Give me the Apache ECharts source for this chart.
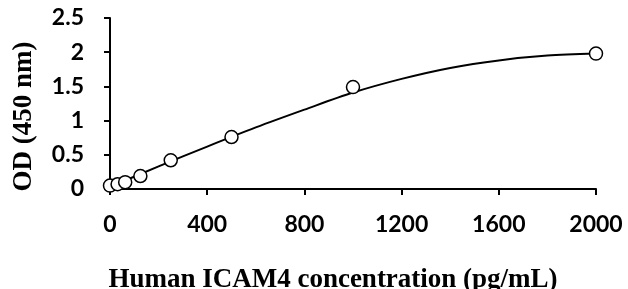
<!DOCTYPE html>
<html>
<head>
<meta charset="utf-8">
<script src="https://cdn.jsdelivr.net/npm/echarts@6/dist/echarts.min.js"></script>
<style>
  html, body { margin: 0; padding: 0; background: #fff; }
  #main { width: 628px; height: 289px; }
</style>
</head>
<body>
<div id="main"></div>
<script>
// measured standards
const concentrations = [0, 31.25, 62.5, 125, 250, 500, 1000, 2000];
const odValues = [0.05, 0.07, 0.10, 0.19, 0.42, 0.76, 1.49, 1.98];

// fitted curve
const curveX = [0, 200, 400, 600, 800, 1000, 1200, 1400, 1600, 1800, 2000];
const curveY = [0.03, 0.33, 0.62, 0.90, 1.16, 1.41, 1.61, 1.77, 1.88, 1.95, 1.98];

const xTitle = 'Human ICAM4 concentration (pg/mL)';
const yTitle = 'OD (450 nm)';

const chart = echarts.init(document.getElementById('main'));

const tickFont = { fontFamily: 'Lato', fontWeight: 'bold', fontSize: 23, color: '#000' };
const titleFont = { fontFamily: 'Liberation Serif', fontWeight: 'bold', fontSize: 27, color: '#000' };

chart.setOption({
    animation: false,
    grid: { left: 110, right: 32, top: 18, bottom: 100, outerBoundsMode: 'none', containLabel: false },
    xAxis: {
        type: 'value',
        min: 0, max: 2000, interval: 400,
        name: xTitle,
        nameLocation: 'middle',
        nameGap: 78,
        nameTextStyle: { ...titleFont, padding: [0, 40, 0, 0] },
        axisLine: { lineStyle: { color: '#000', width: 2 } },
        axisTick: { inside: false, length: 6, lineStyle: { color: '#000', width: 2 } },
        axisLabel: { ...tickFont, margin: 24, formatter: v => String(v) },
        splitLine: { show: false }
    },
    yAxis: {
        type: 'value',
        min: 0, max: 2.5, interval: 0.5,
        name: yTitle,
        nameLocation: 'middle',
        nameGap: 72,
        nameTextStyle: { ...titleFont, padding: [0, 26, 0, 0] },
        axisLine: { show: true, lineStyle: { color: '#000', width: 2 } },
        axisTick: { show: true, inside: false, length: 6, lineStyle: { color: '#000', width: 2 } },
        axisLabel: { ...tickFont, margin: 26, formatter: v => String(v) },
        splitLine: { show: false }
    },
    series: [
        {
            type: 'line',
            data: curveX.map((x, i) => [x, curveY[i]]),
            smooth: 0.3,
            showSymbol: false,
            lineStyle: { color: '#000', width: 2 },
            z: 2
        },
        {
            type: 'scatter',
            data: concentrations.map((x, i) => [x, odValues[i]]),
            symbol: 'circle',
            symbolSize: 13,
            itemStyle: { color: '#fff', borderColor: '#000', borderWidth: 1.5, opacity: 1 },
            emphasis: { disabled: true },
            z: 3
        }
    ]
});

window.addEventListener('resize', () => chart.resize());
</script>
</body>
</html>
